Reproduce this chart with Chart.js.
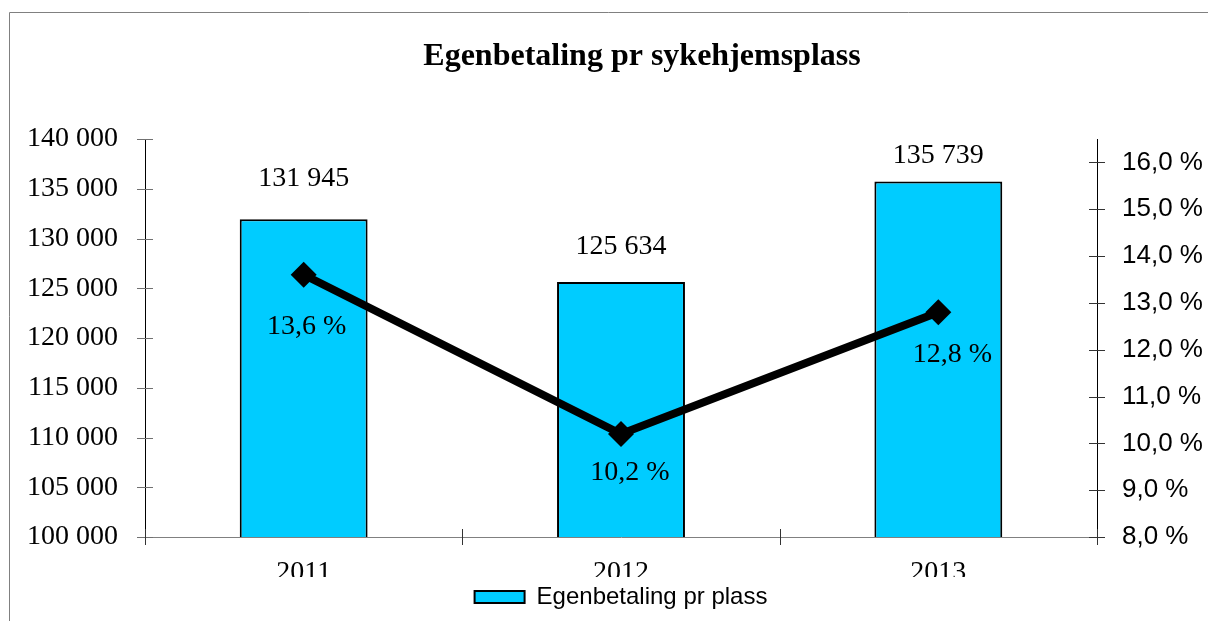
<!DOCTYPE html>
<html>
<head>
<meta charset="utf-8">
<script src="https://cdn.jsdelivr.net/npm/chart.js@4/dist/chart.umd.min.js"></script>
<style>
  html, body { margin: 0; padding: 0; background: #fff; }
  #wrap { width: 1208px; height: 621px; position: relative; }
</style>
</head>
<body>
<div id="wrap"><canvas id="chart" width="1208" height="621"></canvas></div>
<script>
const years = ['2011', '2012', '2013'];
const egenbetaling = [131945, 125634, 135739];
const andel = [13.6, 10.2, 12.8];

const chartTitle = 'Egenbetaling pr sykehjemsplass';

// label offsets (px): bar labels above the bar top, line labels below the point
const barLabelLift = [41, 35, 26];
const lineLabelDrop = [52, 39, 42];
const lineLabelShift = [3, 9, 14];

const serif = 'Liberation Serif, Times New Roman, serif';
const sans = 'Liberation Sans, Arial, sans-serif';

const fmtKr = v => String(Math.round(v)).replace(/\B(?=(\d{3})+(?!\d))/g, ' ');
const fmtPct = v => v.toFixed(1).replace('.', ',') + ' %';

// frame, title, crossing tick marks, value labels
const decor = {
    id: 'decor',
    afterLayout(chart) {
        // centre the legend under the plot area instead of the canvas
        const lg = chart.legend;
        const shift = (chart.chartArea.left + chart.chartArea.right) / 2 - (lg.left + lg.right) / 2;
        lg.left += shift;
        lg.right += shift;
    },
    beforeDraw(chart) {
        const ctx = chart.ctx;
        ctx.save();
        ctx.strokeStyle = '#808080';
        ctx.lineWidth = 1;
        ctx.beginPath();
        ctx.moveTo(9.5, chart.height);
        ctx.lineTo(9.5, 12.5);
        ctx.lineTo(chart.width, 12.5);
        ctx.stroke();

        ctx.fillStyle = '#000';
        ctx.font = 'bold 32px ' + serif;
        ctx.textAlign = 'center';
        ctx.textBaseline = 'middle';
        ctx.fillText(chartTitle, 642, 57);
        ctx.restore();
    },
    afterDatasetsDraw(chart) {
        const ctx = chart.ctx;
        ctx.save();
        ctx.fillStyle = '#000';
        ctx.font = '28px ' + serif;
        ctx.textAlign = 'center';
        ctx.textBaseline = 'middle';
        chart.getDatasetMeta(1).data.forEach((bar, i) => {
            ctx.fillText(fmtKr(egenbetaling[i]), bar.x, bar.y - barLabelLift[i]);
        });
        chart.getDatasetMeta(0).data.forEach((pt, i) => {
            ctx.fillText(fmtPct(andel[i]), pt.x + lineLabelShift[i], pt.y + lineLabelDrop[i]);
        });
        ctx.restore();
    },
    afterDraw(chart) {
        const ctx = chart.ctx;
        const {y, y1, x} = chart.scales;
        const area = chart.chartArea;
        ctx.save();
        ctx.lineWidth = 1;
        ctx.strokeStyle = '#707070';
        ctx.beginPath();
        y.ticks.forEach(t => {
            const py = Math.round(y.getPixelForValue(t.value)) + 0.5;
            ctx.moveTo(area.left - 8, py);
            ctx.lineTo(area.left + 8, py);
        });
        ctx.stroke();
        ctx.strokeStyle = '#333';
        ctx.beginPath();
        y1.ticks.forEach(t => {
            const py = Math.round(y1.getPixelForValue(t.value)) + 0.5;
            ctx.moveTo(area.right - 8, py);
            ctx.lineTo(area.right + 8, py);
        });
        for (let i = 0; i <= years.length; i++) {
            const px = Math.round(x.getPixelForValue(i - 0.5)) + 0.5;
            ctx.moveTo(px, area.bottom - 8);
            ctx.lineTo(px, area.bottom + 8);
        }
        ctx.stroke();
        ctx.restore();
    }
};

new Chart(document.getElementById('chart'), {
    type: 'bar',
    data: {
        labels: years,
        datasets: [
            {
                type: 'line',
                label: 'Andel',
                data: andel,
                yAxisID: 'y1',
                borderColor: '#000',
                backgroundColor: '#000',
                borderWidth: 8,
                pointStyle: 'rectRot',
                pointRadius: 13,
                pointBorderWidth: 0,
                tension: 0,
                order: 0
            },
            {
                label: 'Egenbetaling pr plass',
                data: egenbetaling,
                yAxisID: 'y',
                backgroundColor: '#00CCFF',
                borderColor: '#000',
                borderWidth: 2,
                barPercentage: 0.403,
                categoryPercentage: 1,
                order: 1
            }
        ]
    },
    options: {
        responsive: false,
        animation: false,
        layout: { padding: { left: 0, right: 0, top: 139, bottom: 2 } },
        plugins: {
            tooltip: { enabled: false },
            title: { display: false },
            legend: {
                position: 'bottom',
                labels: {
                    filter: item => item.datasetIndex === 1,
                    color: '#000',
                    font: { family: sans, size: 24 },
                    boxWidth: 50,
                    boxHeight: 12,
                    padding: 8
                }
            }
        },
        scales: {
            x: {
                grid: { display: false, drawTicks: false },
                border: { display: true, color: '#808080', width: 1 },
                // the scale box ends just under the digits, which cuts the years off
                ticks: { color: '#000', font: { family: serif, size: 28 }, padding: 19 },
                afterFit(scale) { scale.height = 40; }
            },
            y: {
                position: 'left',
                min: 100000,
                max: 140000,
                grid: { display: false, drawTicks: false },
                border: { display: true, color: '#000', width: 1 },
                ticks: {
                    stepSize: 5000,
                    color: '#000',
                    font: { family: serif, size: 28 },
                    padding: 27,
                    callback: v => fmtKr(v)
                },
                afterFit(scale) { scale.width = 145; }
            },
            y1: {
                position: 'right',
                min: 8,
                max: 16.5,
                grid: { display: false, drawTicks: false },
                border: { display: true, color: '#000', width: 1 },
                ticks: {
                    stepSize: 1,
                    includeBounds: false,
                    color: '#000',
                    font: { family: sans, size: 26 },
                    padding: 25,
                    callback: v => fmtPct(v)
                },
                afterFit(scale) { scale.width = 111; }
            }
        }
    },
    plugins: [decor]
});
</script>
</body>
</html>
